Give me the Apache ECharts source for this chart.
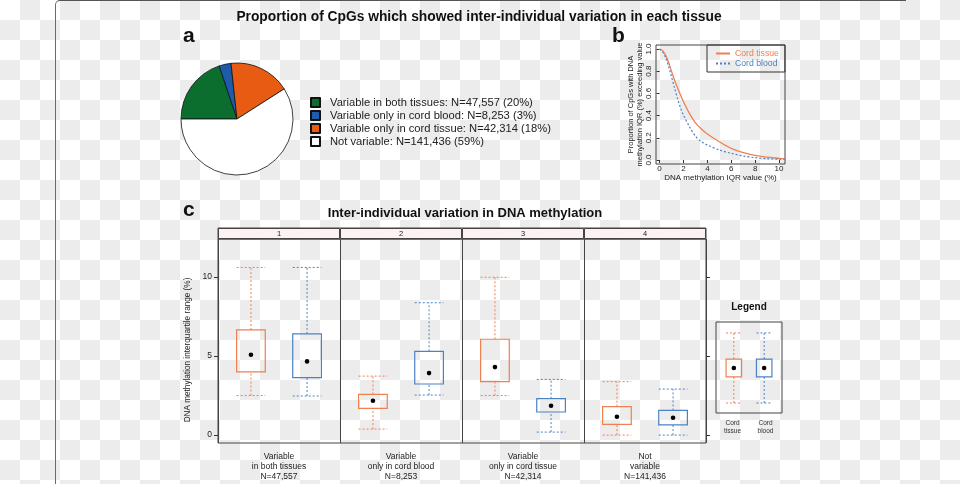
<!DOCTYPE html>
<html>
<head>
<meta charset="utf-8">
<script src="https://cdn.jsdelivr.net/npm/echarts@6/dist/echarts.min.js"></script>
<style>
  html, body { margin: 0; padding: 0; }
  body {
    width: 960px; height: 484px; overflow: hidden; position: relative;
    background: repeating-conic-gradient(#ececec 0 25%, #fff 0 50%) 0 0 / 40px 40px;
  }
  #frame {
    position: absolute; left: 55px; top: 0; width: 850px; height: 520px;
    border-top: 1px solid #555; border-left: 1px solid #6a6a6a;
    border-top-left-radius: 5px;
  }
  #chart { position: absolute; left: 0; top: 0; width: 960px; height: 484px; }
</style>
</head>
<body>
<div id="frame"></div>
<div id="chart"></div>
<script>
// panel a: pie
const pieNames = ['Variable in both tissues', 'Variable only in cord blood', 'Variable only in cord tissue', 'Not variable']
const pieCounts = [47557, 8253, 42314, 141436]
const piePercents = [20, 3, 18, 59]
const pieColors = ['#0b6e2f', '#1f5bab', '#e85b12', '#ffffff']

// panel b: proportion of CpGs exceeding a given IQR
const iqrValues = [0, 0.25, 0.5, 0.75, 1, 1.25, 1.5, 1.75, 2, 2.5, 3, 3.5, 4, 5, 6, 7, 8, 9, 10, 10.5]
const cordTissueProp = [1.0, 0.985, 0.945, 0.88, 0.80, 0.72, 0.65, 0.585, 0.525, 0.42, 0.335, 0.28, 0.235, 0.165, 0.105, 0.066, 0.042, 0.025, 0.015, 0.01]
const cordBloodProp = [1.0, 0.975, 0.925, 0.845, 0.75, 0.65, 0.555, 0.47, 0.405, 0.30, 0.215, 0.165, 0.135, 0.09, 0.06, 0.036, 0.021, 0.012, 0.007, 0.005]
const xTicksB = [0, 2, 4, 6, 8, 10]
const yTicksB = [0, 0.2, 0.4, 0.6, 0.8, 1.0]

// panel c: boxes, [low whisker, Q1, median, Q3, high whisker]
const stripLabels = ['1', '2', '3', '4']
const groupLabels = ['Variable\nin both tissues', 'Variable\nonly in cord blood', 'Variable\nonly in cord tissue', 'Not\nvariable']
const tissueStats = [
  [2.5, 4.0, 5.08, 6.65, 10.6],
  [0.38, 1.69, 2.17, 2.57, 3.73],
  [2.5, 3.38, 4.3, 6.06, 9.98],
  [0.0, 0.68, 1.16, 1.8, 3.38]
]
const bloodStats = [
  [2.47, 3.63, 4.66, 6.4, 10.6],
  [2.53, 3.23, 3.92, 5.3, 8.37],
  [0.19, 1.46, 1.86, 2.3, 3.52],
  [0.0, 0.65, 1.1, 1.56, 2.91]
]
const yTicksC = [0, 5, 10]
const legendNames = ['Cord\ntissue', 'Cord\nblood']
const legendStats = [1.1, 3.96, 4.95, 5.93, 8.8]

const orange = '#ef8052'
const blue = '#4b82c5'
const font = 'Liberation Sans, Arial, Helvetica, sans-serif'

const fmtN = n => n.toLocaleString('en-US')
const pieLabels = pieNames.map((name, i) => `${name}: N=${fmtN(pieCounts[i])} (${piePercents[i]}%)`)
const groupAxisLabels = groupLabels.map((g, i) => `${g}\nN=${fmtN(pieCounts[i])}`)

function boxRenderer(color) {
  return function (params, api) {
    const x = api.value(0)
    const lo = api.coord([x, api.value(1)])
    const q1 = api.coord([x, api.value(2)])
    const med = api.coord([x, api.value(3)])
    const q3 = api.coord([x, api.value(4)])
    const hi = api.coord([x, api.value(5)])
    const w = api.size([0.235, 0])[0]
    const h = w / 2
    const dotted = { stroke: color, lineWidth: 1, lineDash: [2, 2], fill: null }
    return {
      type: 'group',
      children: [
        { type: 'line', shape: { x1: lo[0], y1: lo[1], x2: q1[0], y2: q1[1] }, style: dotted },
        { type: 'line', shape: { x1: q3[0], y1: q3[1], x2: hi[0], y2: hi[1] }, style: dotted },
        { type: 'line', shape: { x1: lo[0] - h, y1: lo[1], x2: lo[0] + h, y2: lo[1] }, style: dotted },
        { type: 'line', shape: { x1: hi[0] - h, y1: hi[1], x2: hi[0] + h, y2: hi[1] }, style: dotted },
        { type: 'rect', shape: { x: q3[0] - h, y: q3[1], width: w, height: q1[1] - q3[1] },
          style: { stroke: color, fill: 'transparent', lineWidth: 1.2 } },
        { type: 'circle', shape: { cx: med[0], cy: med[1], r: 2.3 }, style: { fill: '#000' } }
      ]
    }
  }
}

const chart = echarts.init(document.getElementById('chart'))

const hiddenAxis = { axisLine: { show: false }, axisTick: { show: false }, axisLabel: { show: false }, splitLine: { show: false } }
const gridBorder = { show: true, borderColor: '#444', borderWidth: 1, backgroundColor: 'transparent' }

const option = {
  animation: false,
  textStyle: { fontFamily: font },
  title: [
    { text: 'Proportion of CpGs which showed inter-individual variation in each tissue', left: 479, top: 10, padding: 0,
      textAlign: 'center', textStyle: { fontSize: 13.8, fontWeight: 'bold', color: '#111' } },
    { text: 'a', left: 183, top: 26, padding: 0, textStyle: { fontSize: 21, fontWeight: 'bold', color: '#111' } },
    { text: 'b', left: 612, top: 26, padding: 0, textStyle: { fontSize: 21, fontWeight: 'bold', color: '#111' } },
    { text: 'c', left: 183, top: 200, padding: 0, textStyle: { fontSize: 21, fontWeight: 'bold', color: '#111' } },
    { text: 'Inter-individual variation in DNA methylation', left: 465, top: 207, padding: 0,
      textAlign: 'center', textStyle: { fontSize: 13, fontWeight: 'bold', color: '#111' } },
    { text: 'Legend', left: 749, top: 302, padding: 0,
      textAlign: 'center', textStyle: { fontSize: 10, fontWeight: 'bold', color: '#111' } }
  ],
  legend: [
    {
      data: pieLabels,
      left: 310, top: 96, orient: 'vertical', padding: 0,
      itemWidth: 9, itemHeight: 9, itemGap: 0, icon: 'rect',
      selectedMode: false,
      textStyle: { fontSize: 11.2, lineHeight: 13, color: '#222', padding: [0, 0, 0, 5] }
    },
    {
      data: [
        { name: 'Cord tissue', textStyle: { color: orange } },
        { name: 'Cord blood', textStyle: { color: blue } }
      ],
      left: 707, top: 45, orient: 'vertical', padding: [4, 6, 4, 8],
      itemWidth: 14, itemHeight: 8, itemGap: 1,
      selectedMode: false,
      itemStyle: { opacity: 0 },
      borderColor: '#333', borderWidth: 1,
      textStyle: { fontSize: 8.7, lineHeight: 9 }
    }
  ],
  grid: [
    { left: 218, top: 228, width: 488, height: 11, ...gridBorder },
    { left: 218, top: 239, width: 488, height: 204, ...gridBorder },
    { left: 656, top: 45, width: 129, height: 119, ...gridBorder },
    { left: 716, top: 322, width: 66, height: 91, ...gridBorder }
  ],
  xAxis: [
    { type: 'category', gridIndex: 0, data: stripLabels, ...hiddenAxis },
    { type: 'value', gridIndex: 1, min: 0, max: 4, interval: 1, ...hiddenAxis,
      splitLine: { show: true, lineStyle: { color: '#444', width: 1 } } },
    { type: 'category', gridIndex: 1, data: groupAxisLabels, position: 'bottom',
      axisLine: { show: false }, axisTick: { show: false }, splitLine: { show: false },
      axisLabel: { fontSize: 8.5, lineHeight: 10, color: '#222', margin: 9, interval: 0 } },
    { type: 'value', gridIndex: 2, min: -0.3, max: 10.5,
      axisLine: { show: false }, splitLine: { show: false },
      axisTick: { length: 3, lineStyle: { color: '#333' }, customValues: xTicksB },
      axisLabel: { fontSize: 8, color: '#222', margin: 1, customValues: xTicksB },
      name: 'DNA methylation IQR value (%)', nameLocation: 'middle', nameGap: 9,
      nameTextStyle: { fontSize: 8, color: '#222' } },
    { type: 'value', gridIndex: 3, min: 0, max: 1, ...hiddenAxis },
    { type: 'category', gridIndex: 3, data: legendNames, position: 'bottom',
      axisLine: { show: false }, axisTick: { show: false }, splitLine: { show: false },
      axisLabel: { fontSize: 6.5, lineHeight: 8, color: '#333', margin: 6, interval: 0 } }
  ],
  yAxis: [
    { type: 'value', gridIndex: 0, min: 0, max: 1, ...hiddenAxis },
    { type: 'value', gridIndex: 1, min: -0.5, max: 12.4, position: 'left',
      axisLine: { show: false }, splitLine: { show: false },
      axisTick: { length: 4, lineStyle: { color: '#333' }, customValues: yTicksC },
      axisLabel: { fontSize: 8.5, color: '#222', margin: 6, customValues: yTicksC },
      name: 'DNA methylation interquartile range (%)', nameLocation: 'middle', nameRotate: 90, nameGap: 24,
      nameTextStyle: { fontSize: 8.2, color: '#222', padding: [0, 18, 0, 0] } },
    { type: 'value', gridIndex: 1, min: -0.5, max: 12.4, position: 'right',
      axisLine: { show: false }, splitLine: { show: false }, axisLabel: { show: false },
      axisTick: { length: 4, lineStyle: { color: '#333' }, customValues: yTicksC } },
    { type: 'value', gridIndex: 2, min: -0.036, max: 1.036,
      axisLine: { show: false }, splitLine: { show: false },
      axisTick: { length: 3, lineStyle: { color: '#333' }, customValues: yTicksB },
      axisLabel: { fontSize: 8, color: '#222', margin: 3, rotate: 90, customValues: yTicksB,
        formatter: v => v.toFixed(1) },
      name: 'Proportion of CpGs with DNA\nmethylation IQR (%) exceeding value', nameLocation: 'middle',
      nameRotate: 90, nameGap: 11,
      nameTextStyle: { fontSize: 7.5, lineHeight: 9, color: '#222' } },
    { type: 'value', gridIndex: 3, min: 0, max: 10, ...hiddenAxis }
  ],
  series: [
    {
      type: 'pie', center: [237, 119], radius: 56, startAngle: 180, clockwise: true,
      silent: true, label: { show: false }, labelLine: { show: false },
      itemStyle: { borderColor: '#111', borderWidth: 0.8 },
      data: pieLabels.map((name, i) => ({ name, value: pieCounts[i], itemStyle: { color: pieColors[i] } }))
    },
    {
      name: 'Cord tissue', type: 'line', xAxisIndex: 3, yAxisIndex: 3, symbol: 'none', smooth: 0.3,
      lineStyle: { color: orange, width: 1.3 }, itemStyle: { color: orange },
      data: iqrValues.map((x, i) => [x, cordTissueProp[i]])
    },
    {
      name: 'Cord blood', type: 'line', xAxisIndex: 3, yAxisIndex: 3, symbol: 'none', smooth: 0.3,
      lineStyle: { color: blue, width: 1.2, type: [2, 2] }, itemStyle: { color: blue },
      data: iqrValues.map((x, i) => [x, cordBloodProp[i]])
    },
    {
      type: 'bar', xAxisIndex: 0, yAxisIndex: 0, barWidth: '100%', silent: true,
      itemStyle: { color: '#fdf2f2', borderColor: '#444', borderWidth: 1 },
      label: { show: true, position: 'inside', formatter: '{b}', fontSize: 7.5, color: '#222' },
      data: stripLabels.map(() => 1)
    },
    {
      type: 'custom', xAxisIndex: 1, yAxisIndex: 1, renderItem: boxRenderer(orange), silent: true,
      encode: { x: 0, y: [1, 2, 3, 4, 5] },
      data: tissueStats.map((s, i) => [i + 0.27, ...s])
    },
    {
      type: 'custom', xAxisIndex: 1, yAxisIndex: 1, renderItem: boxRenderer(blue), silent: true,
      encode: { x: 0, y: [1, 2, 3, 4, 5] },
      data: bloodStats.map((s, i) => [i + 0.73, ...s])
    },
    {
      type: 'custom', xAxisIndex: 4, yAxisIndex: 4, renderItem: boxRenderer(orange), silent: true,
      encode: { x: 0, y: [1, 2, 3, 4, 5] },
      data: [[0.27, ...legendStats]]
    },
    {
      type: 'custom', xAxisIndex: 4, yAxisIndex: 4, renderItem: boxRenderer(blue), silent: true,
      encode: { x: 0, y: [1, 2, 3, 4, 5] },
      data: [[0.73, ...legendStats]]
    }
  ]
}

chart.setOption(option)
</script>
</body>
</html>
